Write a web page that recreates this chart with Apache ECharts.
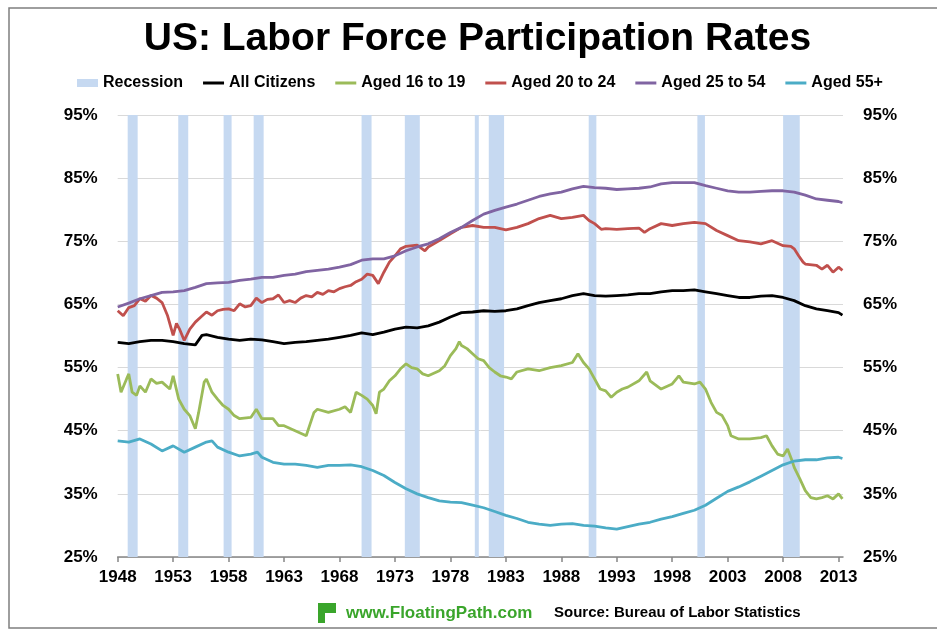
<!DOCTYPE html>
<html><head><meta charset="utf-8">
<script src="https://cdn.jsdelivr.net/npm/echarts@6/dist/echarts.min.js"></script>
<style>html,body{margin:0;padding:0;background:#fff}#c{width:937px;height:631px}</style>
</head><body><div id="c"></div>
<script>
// ---------- data ----------
const titleText = 'US: Labor Force Participation Rates';
const seriesNames = ['All Citizens', 'Aged 16 to 19', 'Aged 20 to 24', 'Aged 25 to 54', 'Aged 55+'];
const yearTicks = [1948, 1953, 1958, 1963, 1968, 1973, 1978, 1983, 1988, 1993, 1998, 2003, 2008, 2013];
const pctTicks = [25, 35, 45, 55, 65, 75, 85, 95];

// recession periods [start, end] in decimal years
const recessions = [
  [1948.9, 1949.8], [1953.46, 1954.36], [1957.55, 1958.27], [1960.26, 1961.16],
  [1969.99, 1970.89], [1973.89, 1975.24], [1980.2, 1980.56], [1981.46, 1982.84],
  [1990.47, 1991.16], [2000.27, 2000.95], [2008.0, 2009.5]
];

const allCitizens = [
  [1948,59.0],[1949,58.8],[1950,59.1],[1951,59.3],[1952,59.3],[1953,59.1],[1954,58.8],[1955,58.6],[1955.6,60.1],
  [1956,60.2],[1957,59.8],[1958,59.5],[1959,59.3],[1960,59.5],[1961,59.4],[1962,59.1],[1963,58.8],[1964,59.0],
  [1965,59.1],[1966,59.3],[1967,59.5],[1968,59.8],[1969,60.1],[1970,60.5],[1971,60.2],[1972,60.6],[1973,61.1],
  [1974,61.4],[1975,61.3],[1976,61.6],[1977,62.2],[1978,63.0],[1979,63.7],[1980,63.8],[1981,64.0],[1982,63.9],
  [1983,64.0],[1984,64.3],[1985,64.8],[1986,65.3],[1987,65.6],[1988,65.9],[1989,66.4],[1990,66.7],[1991,66.4],
  [1992,66.3],[1993,66.4],[1994,66.5],[1995,66.7],[1996,66.7],[1997,67.0],[1998,67.2],[1999,67.2],[2000,67.3],
  [2001,67.0],[2002,66.7],[2003,66.4],[2004,66.1],[2005,66.1],[2006,66.3],[2007,66.4],[2008,66.1],[2009,65.6],
  [2010,64.8],[2011,64.3],[2012,64.0],[2013,63.7],[2013.35,63.3]
];

const aged16to19 = [
  [1948,54.0],[1948.3,51.1],[1948.8,53.2],[1949,54.0],[1949.3,51.1],[1949.7,50.6],[1950,52.1],[1950.5,51.1],
  [1951,53.2],[1951.5,52.5],[1952,52.7],[1952.7,51.6],[1953,53.7],[1953.5,50.0],[1954,48.4],[1954.5,47.4],
  [1955,45.3],[1955.3,47.9],[1955.8,52.7],[1956,53.2],[1956.5,51.1],[1957,50.0],[1957.5,49.0],[1958,48.4],
  [1958.5,47.4],[1959,46.9],[1960,47.1],[1960.5,48.4],[1961,46.9],[1962,46.9],[1962.5,45.8],[1963,45.8],
  [1964,45.0],[1965,44.2],[1965.3,45.8],[1965.7,47.9],[1966,48.4],[1967,47.9],[1968,48.4],[1968.5,48.8],
  [1969,47.9],[1969.5,51.1],[1970,50.6],[1970.5,50.0],[1971,49.0],[1971.3,47.7],[1971.6,51.1],[1972,51.6],
  [1972.5,52.9],[1973,53.7],[1973.5,54.8],[1974,55.6],[1974.5,55.0],[1975,54.8],[1975.5,54.0],[1976,53.7],
  [1977,54.5],[1977.5,55.3],[1978,56.9],[1978.5,58.0],[1978.8,59.1],[1979,58.5],[1979.5,58.0],[1980,57.2],
  [1980.5,56.4],[1981,56.1],[1981.5,55.0],[1982,54.3],[1982.5,53.7],[1983,53.5],[1983.5,53.2],[1984,54.3],
  [1985,54.8],[1986,54.5],[1987,55.0],[1988,55.3],[1989,55.8],[1989.5,57.2],[1990,55.8],[1990.5,54.8],
  [1991,53.2],[1991.5,51.6],[1992,51.3],[1992.5,50.3],[1993,51.1],[1993.5,51.6],[1994,51.9],[1995,52.9],
  [1995.7,54.3],[1996,52.9],[1997,51.6],[1998,52.4],[1998.6,53.7],[1999,52.7],[2000,52.4],[2000.5,52.7],
  [2001,51.6],[2001.5,49.5],[2002,47.9],[2002.5,47.4],[2003,45.8],[2003.3,44.2],[2004,43.7],[2005,43.7],
  [2006,43.9],[2006.5,44.2],[2007,42.6],[2007.5,41.3],[2008,41.0],[2008.4,42.1],[2008.8,40.3],[2009,39.2],
  [2009.5,37.4],[2010,35.5],[2010.5,34.4],[2011,34.2],[2011.5,34.4],[2012,34.7],[2012.5,34.2],[2013,35.0],
  [2013.35,34.2]
];

const aged20to24 = [
  [1948,64.0],[1948.5,63.2],[1949,64.5],[1949.5,64.8],[1950,65.9],[1950.5,65.5],[1951,66.4],[1951.5,66.0],
  [1952,65.3],[1952.5,63.2],[1953,60.1],[1953.3,62.0],[1953.6,61.0],[1954,59.3],[1954.5,61.1],[1955,62.2],
  [1955.5,63.0],[1956,63.8],[1956.5,63.3],[1957,64.0],[1957.5,64.2],[1958,64.3],[1958.5,64.0],[1959,65.1],
  [1959.5,64.6],[1960,64.8],[1960.5,66.0],[1961,65.3],[1961.5,65.8],[1962,65.9],[1962.5,66.5],[1963,65.3],
  [1963.5,65.6],[1964,65.3],[1964.5,66.0],[1965,66.4],[1965.5,66.2],[1966,66.9],[1966.5,66.6],[1967,67.2],
  [1967.5,67.0],[1968,67.5],[1968.5,67.8],[1969,68.0],[1969.5,68.6],[1970,69.0],[1970.5,69.8],[1971,69.6],
  [1971.5,68.3],[1972,70.1],[1972.5,71.7],[1973,72.7],[1973.5,73.8],[1974,74.2],[1975,74.4],[1975.7,73.5],
  [1976,74.1],[1977,75.1],[1978,76.2],[1979,77.2],[1980,77.5],[1981,77.2],[1982,77.2],[1983,76.8],
  [1984,77.2],[1985,77.8],[1986,78.6],[1987,79.1],[1988,78.6],[1989,78.8],[1990,79.1],[1990.5,78.3],
  [1991,77.8],[1991.6,76.9],[1992,77.0],[1993,76.9],[1994,77.0],[1995,77.1],[1995.5,76.4],[1996,77.0],
  [1997,77.8],[1998,77.5],[1999,77.8],[2000,78.0],[2001,77.8],[2002,76.7],[2003,75.9],[2004,75.1],
  [2005,74.9],[2006,74.6],[2007,75.1],[2008,74.3],[2008.7,74.2],[2009,73.8],[2009.4,72.7],[2009.8,71.7],
  [2010,71.4],[2011,71.2],[2011.5,70.6],[2012,71.2],[2012.5,70.1],[2013,70.9],[2013.35,70.4]
];

const aged25to54 = [
  [1948,64.6],[1949,65.2],[1950,65.9],[1951,66.4],[1952,66.9],[1953,67.0],[1954,67.2],[1955,67.7],[1956,68.3],
  [1957,68.4],[1958,68.5],[1959,68.8],[1960,69.0],[1961,69.3],[1962,69.3],[1963,69.6],[1964,69.8],[1965,70.2],
  [1966,70.4],[1967,70.6],[1968,70.9],[1969,71.3],[1970,72.0],[1971,72.2],[1972,72.2],[1973,72.7],[1974,73.5],
  [1975,74.1],[1976,74.6],[1977,75.4],[1978,76.4],[1979,77.2],[1980,78.3],[1981,79.3],[1982,79.9],[1983,80.4],
  [1984,80.9],[1985,81.5],[1986,82.1],[1987,82.5],[1988,82.8],[1989,83.3],[1990,83.7],[1991,83.5],[1992,83.4],
  [1993,83.2],[1994,83.3],[1995,83.4],[1996,83.6],[1997,84.1],[1998,84.3],[1999,84.3],[2000,84.3],[2001,83.8],
  [2002,83.4],[2003,83.0],[2004,82.8],[2005,82.8],[2006,82.9],[2007,83.0],[2008,83.0],[2009,82.8],[2010,82.3],
  [2011,81.7],[2012,81.5],[2013,81.3],[2013.35,81.1]
];

const aged55plus = [
  [1948,43.4],[1949,43.2],[1950,43.7],[1951,42.9],[1952,41.8],[1953,42.6],[1954,41.6],[1955,42.4],[1956,43.2],
  [1956.5,43.4],[1957,42.4],[1958,41.6],[1959,41.0],[1960,41.3],[1960.6,41.6],[1961,40.8],[1962,40.0],[1963,39.7],
  [1964,39.7],[1965,39.5],[1966,39.2],[1967,39.5],[1968,39.5],[1969,39.6],[1970,39.3],[1971,38.7],[1972,37.9],
  [1973,36.8],[1974,35.8],[1975,35.0],[1976,34.4],[1977,33.9],[1978,33.7],[1979,33.6],[1980,33.2],[1981,32.8],
  [1982,32.2],[1983,31.6],[1984,31.1],[1985,30.5],[1986,30.2],[1987,30.0],[1988,30.2],[1989,30.3],[1990,30.0],
  [1991,29.9],[1992,29.6],[1993,29.4],[1994,29.8],[1995,30.2],[1996,30.5],[1997,31.0],[1998,31.4],[1999,31.9],
  [2000,32.4],[2001,33.2],[2002,34.3],[2003,35.4],[2004,36.1],[2005,36.9],[2006,37.8],[2007,38.7],[2008,39.6],
  [2009,40.2],[2010,40.4],[2011,40.4],[2012,40.7],[2013,40.8],[2013.35,40.6]
];

// ---------- styling ----------
const FONT = "'Liberation Sans', Arial, Helvetica, sans-serif";
const colors = ['#000000', '#9bbb59', '#c0504d', '#8064a2', '#4bacc6'];
const seriesData = [allCitizens, aged16to19, aged20to24, aged25to54, aged55plus];
const recessionColor = '#c6d9f1';
const lineIcon = 'path://M0,0 L21,0 L21,3 L0,3 Z';

const chart = echarts.init(document.getElementById('c'), null, { renderer: 'canvas' });

const yAxisBase = {
  type: 'value', min: pctTicks[0], max: pctTicks[pctTicks.length - 1], interval: 10,
  axisLine: { show: false }, axisTick: { show: false },
  axisLabel: { formatter: v => v + '%', fontFamily: FONT, fontWeight: 'bold', fontSize: 17, color: '#000', margin: 20 }
};

const lineSeries = seriesNames.map((name, i) => ({
  name, type: 'line', data: seriesData[i], symbol: 'none', showSymbol: false,
  lineStyle: { color: colors[i], width: 2.8 }, itemStyle: { color: colors[i] },
  emphasis: { disabled: true }, z: 3 + i
}));

chart.setOption({
  animation: false,
  backgroundColor: '#fff',
  grid: { left: 117.7, right: 94, top: 115, bottom: 74, containLabel: false },
  legend: {
    left: 77, top: 75, padding: 0, itemWidth: 21, itemHeight: 8, itemGap: 20,
    symbolKeepAspect: true,
    textStyle: { fontFamily: FONT, fontWeight: 'bold', fontSize: 16, color: '#000' },
    selectedMode: false,
    data: [{ name: 'Recession', icon: 'rect' }].concat(seriesNames.map(n => ({ name: n, icon: lineIcon })))
  },
  xAxis: {
    type: 'value', min: yearTicks[0], max: 2013.4, interval: 5,
    axisLine: { show: true, lineStyle: { color: '#868686', width: 1.5 } },
    axisTick: { show: true, length: 5, lineStyle: { color: '#868686', width: 1.5 }, customValues: yearTicks },
    axisLabel: { customValues: yearTicks, formatter: v => String(Math.round(v)), fontFamily: FONT, fontWeight: 'bold', fontSize: 17, color: '#000', margin: 12 },
    splitLine: { show: false }
  },
  yAxis: [
    Object.assign({}, yAxisBase, { position: 'left', splitLine: { show: true, lineStyle: { color: '#d9d9d9', width: 1 } } }),
    Object.assign({}, yAxisBase, { position: 'right', splitLine: { show: false } })
  ],
  series: [{
    name: 'Recession', type: 'custom', data: recessions, encode: { x: [0, 1] },
    itemStyle: { color: recessionColor }, z: 1, silent: true,
    renderItem: (params, api) => {
      const a = api.coord([api.value(0), pctTicks[pctTicks.length - 1]]);
      const b = api.coord([api.value(1), pctTicks[0]]);
      return { type: 'rect', shape: { x: a[0], y: a[1], width: b[0] - a[0], height: b[1] - a[1] }, style: { fill: recessionColor } };
    }
  }].concat(lineSeries),
  graphic: [
    { type: 'rect', shape: { x: 9, y: 8, width: 960, height: 620 }, style: { fill: 'none', stroke: '#7f7f7f', lineWidth: 1.5 }, z: 0, silent: true },
    { type: 'text', x: 477.5, y: 39, style: { text: titleText, font: "bold 39px " + FONT, fill: '#000', textAlign: 'center', textVerticalAlign: 'middle' } },
    { type: 'polygon', shape: { points: [[318, 603], [336, 603], [336, 613], [325, 613], [325, 623], [318, 623]] }, style: { fill: '#3aa52b' } },
    { type: 'text', x: 346, y: 613, style: { text: 'www.FloatingPath.com', font: "bold 17px " + FONT, fill: '#3aa52b', textVerticalAlign: 'middle' } },
    { type: 'text', x: 554, y: 613, style: { text: 'Source: Bureau of Labor Statistics', font: "bold 15px " + FONT, fill: '#000', textVerticalAlign: 'middle' } }
  ]
});
</script>
</body></html>
